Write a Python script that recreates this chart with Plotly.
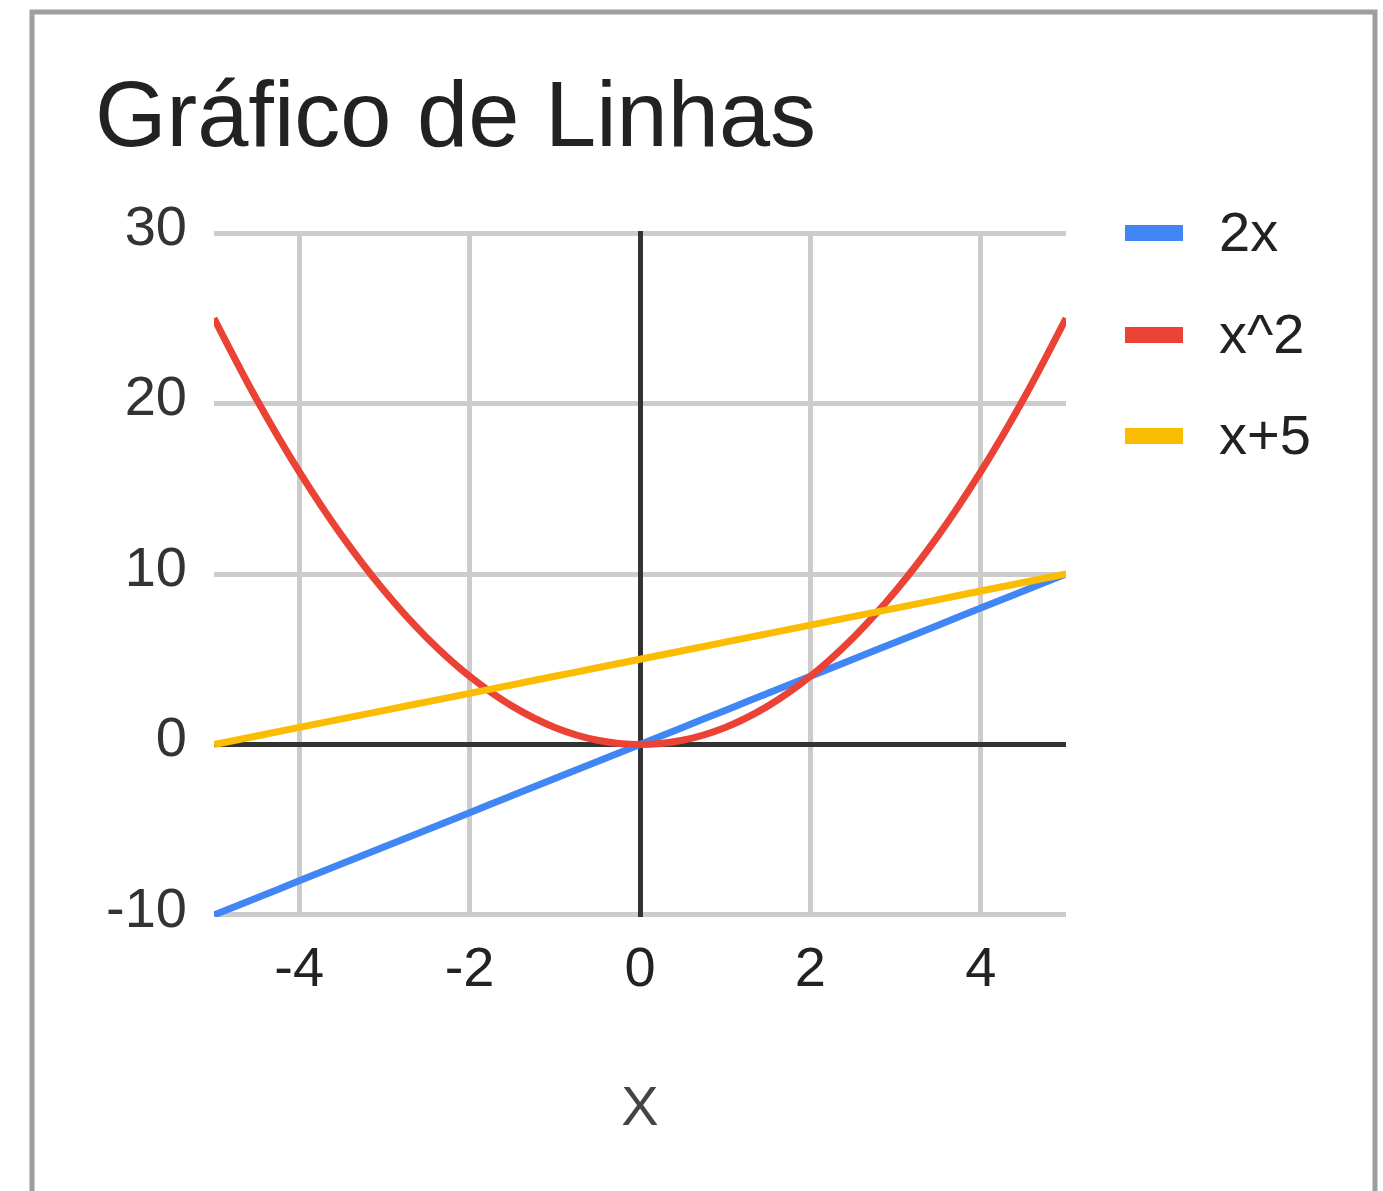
import plotly.graph_objects as go

# ---- data ----
x_vals = [-5, -4.5, -4, -3.5, -3, -2.5, -2, -1.5, -1, -0.5, 0,
          0.5, 1, 1.5, 2, 2.5, 3, 3.5, 4, 4.5, 5]
y_2x = [-10, -9, -8, -7, -6, -5, -4, -3, -2, -1, 0,
        1, 2, 3, 4, 5, 6, 7, 8, 9, 10]
y_x2 = [25, 20.25, 16, 12.25, 9, 6.25, 4, 2.25, 1, 0.25, 0,
        0.25, 1, 2.25, 4, 6.25, 9, 12.25, 16, 20.25, 25]
y_x5 = [0, 0.5, 1, 1.5, 2, 2.5, 3, 3.5, 4, 4.5, 5,
        5.5, 6, 6.5, 7, 7.5, 8, 8.5, 9, 9.5, 10]
series_names = ["2x", "x^2", "x+5"]
series_colors = ["#4285F4", "#EA4335", "#FBBC04"]
x_ticks = [-4, -2, 0, 2, 4]
x_ticktext = ["-4", "-2", "0", "2", "4"]
y_ticks = [-10, 0, 10, 20, 30]
y_ticktext = ["-10", "0", "10", "20", "30"]

FONT = "Liberation Sans, Arial, sans-serif"
W, H = 1383, 1191
Y_LO, Y_HI = -10.12, 30.12
PXU = 17.05  # pixels per y unit
T = 233 - (Y_HI - 30) * PXU
B = (H - 915) - (-10 - Y_LO) * PXU
L, R = 214, 317
PW, PH = W - L - R, H - T - B

def px_x(p):
    return (p - L) / PW

def px_y(p):
    return (H - B - p) / PH

fig = go.Figure()
for name, ys, col in zip(series_names, [y_2x, y_x2, y_x5], series_colors):
    fig.add_trace(go.Scatter(
        x=x_vals, y=ys, name=name, mode="lines",
        line=dict(color=col, width=7, shape="spline"),
        showlegend=False,
    ))

shapes = [
    # outer frame
    dict(type="rect", xref="paper", yref="paper",
         x0=px_x(32), x1=px_x(1375), y0=px_y(1250), y1=px_y(12),
         line=dict(color="#9e9e9e", width=5), fillcolor="rgba(0,0,0,0)",
         layer="below"),
]
annotations = []
legend_y = [233, 335, 436]
for name, col, ly in zip(series_names, series_colors, legend_y):
    shapes.append(dict(type="rect", xref="paper", yref="paper",
                       x0=px_x(1125), x1=px_x(1183),
                       y0=px_y(ly + 8), y1=px_y(ly - 8),
                       line=dict(width=0), fillcolor=col))
    annotations.append(dict(xref="paper", yref="paper",
                            x=px_x(1217), y=px_y(ly - 2),
                            xanchor="left", yanchor="middle",
                            text=name, showarrow=False,
                            font=dict(family=FONT, size=56, color="#222222")))

fig.update_layout(
    width=W, height=H,
    margin=dict(l=L, r=R, t=T, b=B, pad=0),
    paper_bgcolor="white", plot_bgcolor="white",
    font=dict(family=FONT),
    title=dict(text="Gráfico de Linhas", xref="container", yref="container",
               x=95 / W, xanchor="left", y=1 - 114 / H, yanchor="middle",
               font=dict(family=FONT, size=92, color="#222222")),
    shapes=shapes,
    annotations=annotations,
    xaxis=dict(range=[-5, 5], tickvals=x_ticks, ticktext=x_ticktext,
               showgrid=True, gridcolor="#cccccc", gridwidth=5,
               zeroline=True, zerolinecolor="#333333", zerolinewidth=4.5,
               showline=False, ticks="", ticklabelstandoff=12,
               tickfont=dict(family=FONT, size=56, color="#222222"),
               title=dict(text="X", standoff=88,
                          font=dict(family=FONT, size=56, color="#444444"))),
    yaxis=dict(range=[Y_LO, Y_HI], tickvals=y_ticks, ticktext=y_ticktext,
               showgrid=True, gridcolor="#cccccc", gridwidth=5,
               zeroline=True, zerolinecolor="#333333", zerolinewidth=4.5,
               showline=False, ticks="", ticklabelstandoff=26,
               ticklabelshift=-8,
               tickfont=dict(family=FONT, size=56, color="#333333")),
)

fig.write_html("out.html", config={"displayModeBar": False},
               post_script="document.body.style.margin='0';")
